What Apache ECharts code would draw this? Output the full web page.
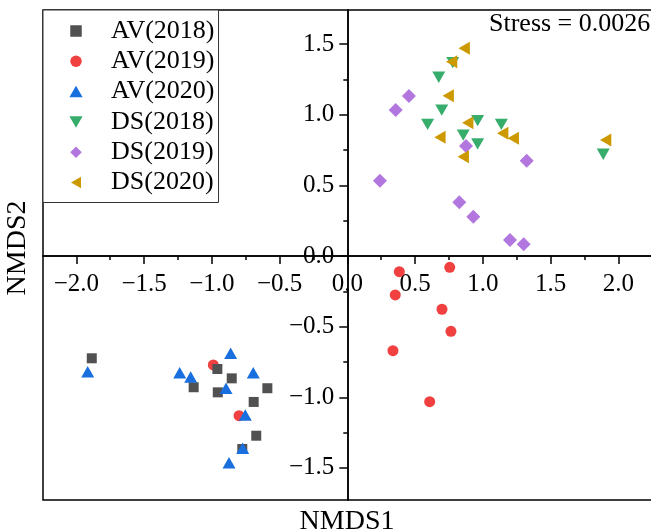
<!DOCTYPE html>
<html>
<head>
<meta charset="utf-8">
<script src="https://cdn.jsdelivr.net/npm/echarts@6/dist/echarts.min.js"></script>
<style>html,body{margin:0;padding:0;background:#fff;}#c{width:651px;height:532px;}</style>
</head>
<body>
<div id="c"></div>
<script>
// ---- data (NMDS1, NMDS2) ----
var seriesNames = ['AV(2018)', 'AV(2019)', 'AV(2020)', 'DS(2018)', 'DS(2019)', 'DS(2020)'];
var av2018 = [[-1.886,-0.724],[-0.959,-0.800],[-0.853,-0.866],[-1.134,-0.929],[-0.956,-0.965],[-0.590,-0.936],[-0.691,-1.033],[-0.672,-1.272],[-0.775,-1.366]];
var av2019 = [[-0.989,-0.771],[-0.799,-1.130],[0.384,-0.111],[0.756,-0.080],[0.354,-0.276],[0.699,-0.377],[0.765,-0.533],[0.337,-0.670],[0.608,-1.031]];
var av2020 = [[-1.916,-0.819],[-1.237,-0.826],[-1.156,-0.856],[-0.861,-0.689],[-0.694,-0.826],[-0.895,-0.936],[-0.753,-1.125],[-0.772,-1.361],[-0.873,-1.463]];
var ds2018 = [[0.778,1.368],[0.675,1.265],[0.697,1.033],[0.593,0.932],[0.962,0.958],[0.856,0.856],[0.962,0.793],[1.137,0.932],[1.889,0.720]];
var ds2019 = [[0.455,1.132],[0.357,1.033],[0.876,0.778],[1.324,0.674],[0.241,0.533],[0.827,0.380],[0.930,0.278],[1.201,0.113],[1.302,0.083]];
var ds2020 = [[0.863,1.470],[0.770,1.375],[0.745,1.134],[0.889,0.943],[0.684,0.840],[1.147,0.868],[1.225,0.833],[0.856,0.703],[1.907,0.821]];
var xMajorTicks = [-2, -1.5, -1, -0.5, 0, 0.5, 1, 1.5, 2];
var xMinorTicks = [-1.75, -1.25, -0.75, -0.25, 0.25, 0.75, 1.25, 1.75];
var yMajorTicks = [-1.5, -1, -0.5, 0, 0.5, 1, 1.5];
var yMinorTicks = [-1.25, -0.75, -0.25, 0.25, 0.75, 1.25];
var stressText = 'Stress = 0.0026';
var xTitle = 'NMDS1';
var yTitle = 'NMDS2';

var FONT = "'Liberation Serif','Times New Roman',serif";
var colors = ['#515151', '#F14040', '#1A6FDF', '#37AD6B', '#B177DE', '#CC9900'];
var symbols = ['rect', 'circle', 'triangle', 'path://M0,0L10,0L5,8.7Z', 'diamond', 'path://M0,5L8.7,0L8.7,10Z'];
var legendIcons = ['path://M0,0H10V10H0Z', 'circle', 'path://M5,0L10,8.7L0,8.7Z', 'path://M0,0L10,0L5,8.7Z', 'path://M5,0L10,5L5,10L0,5Z', 'path://M0,5L8.7,0L8.7,10Z'];
var sizes = [10, 11, [13, 11.5], [13, 11.3], 14, [11.3, 13]];
var zs = [3, 2, 4, 5, 6, 7];
var datas = [av2018, av2019, av2020, ds2018, ds2019, ds2020];

function fmt(v) { return (v < 0 ? '\u2212' : '') + Math.abs(v).toFixed(1); }

var XMIN = -2.246, XMAX = 2.249, YMIN = -1.727, YMAX = 1.741;
var GRID = { left: 43, top: 10, width: 609, height: 490 };
// place the labelled axes on the zero lines (axis offset from grid edge)
var xAxisOffset = -GRID.height * (0 - YMIN) / (YMAX - YMIN);
var yAxisOffset = -GRID.width * (0 - XMIN) / (XMAX - XMIN);
var AXLINE = { color: '#000', width: 1.5 };

var series = seriesNames.map(function (n, i) {
  return {
    name: n, type: 'scatter', data: datas[i],
    xAxisIndex: 0, yAxisIndex: 0,
    symbol: symbols[i], symbolSize: sizes[i], z: zs[i],
    itemStyle: { color: colors[i], opacity: 1 },
    emphasis: { disabled: true }
  };
});

var chart = echarts.init(document.getElementById('c'), null, { renderer: 'canvas' });
chart.setOption({
  animation: false,
  backgroundColor: '#fff',
  grid: { left: GRID.left, top: GRID.top, width: GRID.width, height: GRID.height, show: true, borderColor: '#000', borderWidth: 1.5, containLabel: false, outerBoundsMode: 'none' },
  legend: {
    orient: 'vertical', left: 43, top: 10,
    itemWidth: 60, itemHeight: 11.5, itemGap: 4.3,
    padding: [8, 4, 7, 26.4],
    borderColor: '#333', borderWidth: 1, backgroundColor: '#fff',
    textStyle: { fontFamily: FONT, fontSize: 26, color: '#000', lineHeight: 25 },
    data: seriesNames.map(function (n, i) { return { name: n, icon: legendIcons[i] }; }),
    selectedMode: false
  },
  xAxis: [{
    type: 'value', min: XMIN, max: XMAX, position: 'top', show: false,
    axisLine: { onZero: false }, splitLine: { show: false }
  }, {
    type: 'value', min: XMIN, max: XMAX, position: 'bottom', offset: xAxisOffset,
    axisLine: { show: true, onZero: false, lineStyle: AXLINE },
    axisTick: { show: true, length: 8, lineStyle: AXLINE, customValues: xMajorTicks },
    axisLabel: { show: true, customValues: xMajorTicks, formatter: fmt, fontFamily: FONT, fontSize: 25, color: '#000', margin: 16 },
    splitLine: { show: false }
  }, {
    type: 'value', min: XMIN, max: XMAX, position: 'bottom',
    axisLine: { show: true, onZero: true, onZeroAxisIndex: 0, lineStyle: AXLINE },
    axisTick: { show: true, length: 4, lineStyle: AXLINE, customValues: xMinorTicks },
    axisLabel: { show: false },
    splitLine: { show: false }
  }],
  yAxis: [{
    type: 'value', min: YMIN, max: YMAX, position: 'right', show: false,
    axisLine: { onZero: false }, splitLine: { show: false }
  }, {
    type: 'value', min: YMIN, max: YMAX, position: 'left', offset: yAxisOffset,
    axisLine: { show: true, onZero: false, lineStyle: AXLINE },
    axisTick: { show: true, length: 8, lineStyle: AXLINE, customValues: yMajorTicks },
    axisLabel: { show: true, customValues: yMajorTicks, formatter: fmt, fontFamily: FONT, fontSize: 25, color: '#000', margin: 13 },
    splitLine: { show: false }
  }, {
    type: 'value', min: YMIN, max: YMAX, position: 'left',
    axisLine: { show: true, onZero: true, onZeroAxisIndex: 0, lineStyle: AXLINE },
    axisTick: { show: true, length: 4, lineStyle: AXLINE, customValues: yMinorTicks },
    axisLabel: { show: false },
    splitLine: { show: false }
  }],
  graphic: [
    { type: 'text', left: 489, top: 11, z: 100, style: { text: stressText, font: '26px ' + FONT, fill: '#000' } },
    { type: 'text', x: 347, y: 522, z: 100, style: { text: xTitle, font: '28px ' + FONT, fill: '#000', textAlign: 'center', textVerticalAlign: 'middle' } },
    { type: 'text', x: 18, y: 248, rotation: Math.PI / 2, z: 100, style: { text: yTitle, font: '28px ' + FONT, fill: '#000', textAlign: 'center', textVerticalAlign: 'middle' } }
  ],
  series: series
});
</script>
</body>
</html>
